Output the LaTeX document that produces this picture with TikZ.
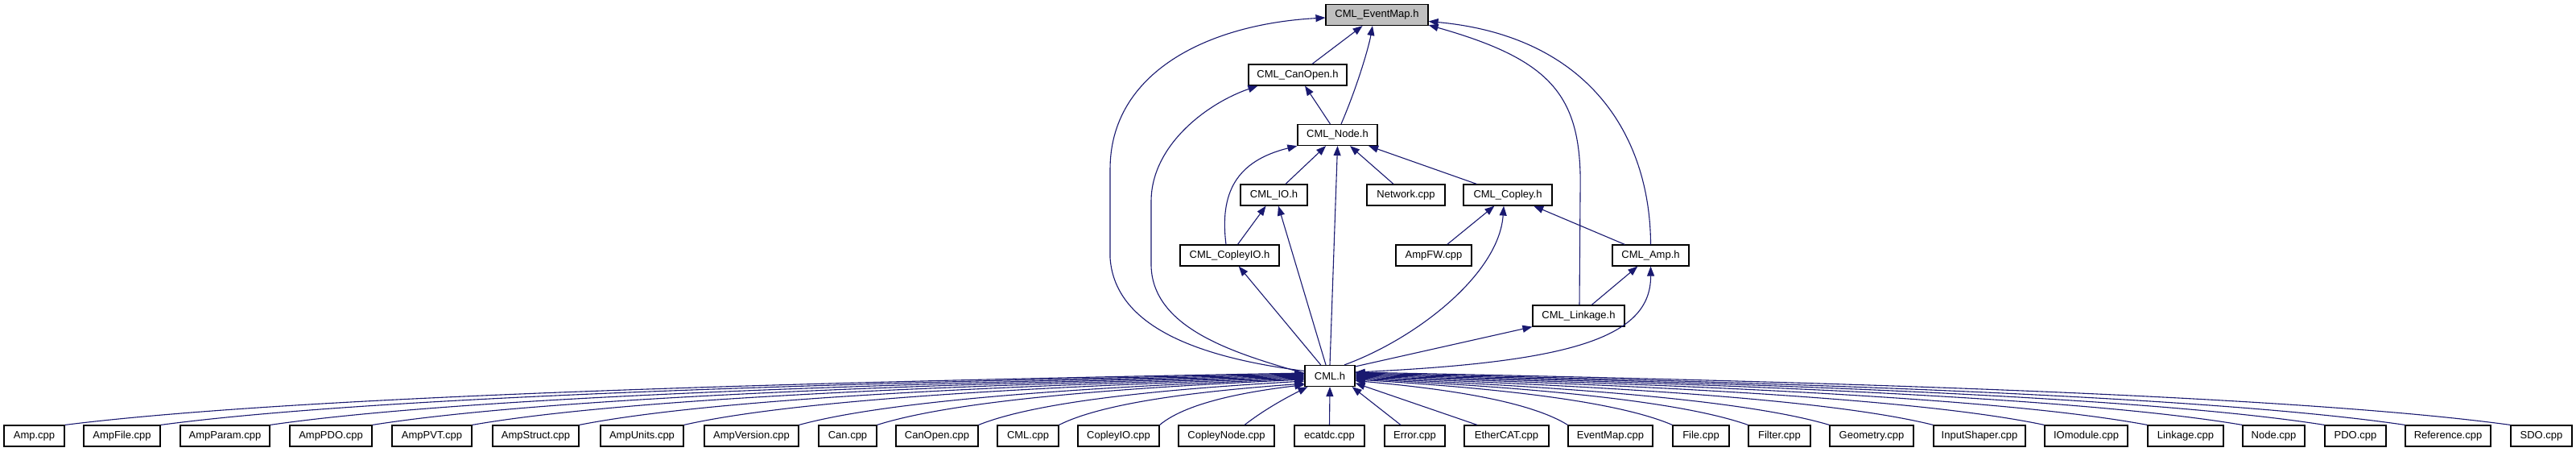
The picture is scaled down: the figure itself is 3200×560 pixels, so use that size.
\documentclass[tikz,border=0pt]{standalone}
\usepackage{fontspec}
\setmainfont{Liberation Sans}
\usetikzlibrary{arrows.meta}
\definecolor{edgeblue}{HTML}{191970}
\definecolor{focusgray}{HTML}{BFBFBF}
\begin{document}
\begin{tikzpicture}[x=1pt,y=-1pt,
  box/.style={draw=black, line width=1.2pt, fill=white, minimum height=26pt, inner sep=0pt, font=\fontsize{13}{15}\selectfont},
  dep/.style={draw=edgeblue, line width=1.1pt, -{Triangle[length=12pt,width=9pt]}},
]
\fill[white] (0,0) rectangle (3200,560);
\useasboundingbox (0,0) rectangle (3200,560);

% upper nodes
\node[box, fill=focusgray, minimum width=127pt] (EM) at (1710.5,18.5) {CML\_EventMap.h};
\node[box, minimum width=122pt] (CanOpenh) at (1612,93) {CML\_CanOpen.h};
\node[box, minimum width=99pt] (Nodeh) at (1661.5,167.5) {CML\_Node.h};
\node[box, minimum width=83pt] (IOh) at (1582.5,242) {CML\_IO.h};
\node[box, minimum width=97pt] (Network) at (1746.5,242) {Network.cpp};
\node[box, minimum width=110pt] (Copleyh) at (1873,242) {CML\_Copley.h};
\node[box, minimum width=123pt] (CopleyIOh) at (1527.5,317) {CML\_CopleyIO.h};
\node[box, minimum width=94pt] (AmpFW) at (1781,317) {AmpFW.cpp};
\node[box, minimum width=95pt] (Amph) at (2050.5,317) {CML\_Amp.h};
\node[box, minimum width=114pt] (Linkageh) at (1961,392) {CML\_Linkage.h};
\node[box, minimum width=62pt] (CMLh) at (1652,466.5) {CML.h};

% bottom row
\node[box, minimum width=75pt] (b1) at (42.5,541) {Amp.cpp};
\node[box, minimum width=95pt] (b2) at (151.5,541) {AmpFile.cpp};
\node[box, minimum width=111pt] (b3) at (279.5,541) {AmpParam.cpp};
\node[box, minimum width=102pt] (b4) at (411,541) {AmpPDO.cpp};
\node[box, minimum width=99pt] (b5) at (536.5,541) {AmpPVT.cpp};
\node[box, minimum width=107pt] (b6) at (665.5,541) {AmpStruct.cpp};
\node[box, minimum width=103pt] (b7) at (797.5,541) {AmpUnits.cpp};
\node[box, minimum width=117pt] (b8) at (933.5,541) {AmpVersion.cpp};
\node[box, minimum width=72pt] (b9) at (1053,541) {Can.cpp};
\node[box, minimum width=102pt] (b10) at (1164,541) {CanOpen.cpp};
\node[box, minimum width=76pt] (b11) at (1277,541) {CML.cpp};
\node[box, minimum width=101pt] (b12) at (1389.5,541) {CopleyIO.cpp};
\node[box, minimum width=119pt] (b13) at (1523.5,541) {CopleyNode.cpp};
\node[box, minimum width=87pt] (b14) at (1651.5,541) {ecatdc.cpp};
\node[box, minimum width=75pt] (b15) at (1757.5,541) {Error.cpp};
\node[box, minimum width=105pt] (b16) at (1871.5,541) {EtherCAT.cpp};
\node[box, minimum width=105pt] (b17) at (2000.5,541) {EventMap.cpp};
\node[box, minimum width=70pt] (b18) at (2113,541) {File.cpp};
\node[box, minimum width=77pt] (b19) at (2210.5,541) {Filter.cpp};
\node[box, minimum width=104pt] (b20) at (2325,541) {Geometry.cpp};
\node[box, minimum width=114pt] (b21) at (2459,541) {InputShaper.cpp};
\node[box, minimum width=103pt] (b22) at (2591.5,541) {IOmodule.cpp};
\node[box, minimum width=94pt] (b23) at (2715,541) {Linkage.cpp};
\node[box, minimum width=77pt] (b24) at (2824.5,541) {Node.cpp};
\node[box, minimum width=76pt] (b25) at (2926,541) {PDO.cpp};
\node[box, minimum width=106pt] (b26) at (3041,541) {Reference.cpp};
\node[box, minimum width=76pt] (b27) at (3157,541) {SDO.cpp};

% upper edges
\draw[dep] (CanOpenh) -- (EM);
\draw[dep] ([xshift=4.5pt]Nodeh.north) .. controls (1685,110) and (1700,60) .. ([xshift=-5.5pt]EM.south);
\draw[dep] ([yshift=6pt]CMLh.west) .. controls (1500,445) and (1385,410) .. (1379,320) -- (1379,210) .. controls (1379,90) and (1500,30) .. ([yshift=-3.5pt]EM.west);
\draw[dep] ([xshift=1pt]Linkageh.north) -- (1963,240) .. controls (1966,120) and (1930,75) .. ([yshift=1pt]EM.south east);
\draw[dep] (Amph.north) .. controls (2050,170) and (1975,45) .. ([yshift=-8pt]EM.east);
\draw[dep] ([yshift=3pt]CMLh.west) .. controls (1540,440) and (1432,410) .. (1430,330) -- (1430,250) .. controls (1430,180) and (1500,128) .. ([xshift=12pt]CanOpenh.south west);
\draw[dep] (Nodeh) -- (CanOpenh);
\draw[dep] (IOh) -- (Nodeh);
\draw[dep] (Network) -- (Nodeh);
\draw[dep] (Copleyh) -- (Nodeh);
\draw[dep] ([xshift=-4.5pt]CopleyIOh.north) .. controls (1515,240) and (1535,200) .. (Nodeh.south west);
\draw[dep] (CMLh.north) -- (Nodeh.south);
\draw[dep] (CopleyIOh) -- (IOh);
\draw[dep] ([xshift=-5pt]CMLh.north) -- ([xshift=5.5pt]IOh.south);
\draw[dep] (CMLh) -- (CopleyIOh);
\draw[dep] (AmpFW) -- (Copleyh);
\draw[dep] ([xshift=18pt]CMLh.north) .. controls (1760,420) and (1862,340) .. ([xshift=-5pt]Copleyh.south);
\draw[dep] (Amph) -- (Copleyh);
\draw[dep] (Linkageh) -- (Amph);
\draw[dep] ([yshift=4.5pt]CMLh.east) .. controls (1950,450) and (2051,420) .. (Amph.south);
\draw[dep] ([yshift=-2pt]CMLh.north east) -- (Linkageh.south west);

% bottom edges, left side
\draw[dep] (b1.north east) .. controls (388,489) and (1082,472.75) .. ([yshift=3.5pt]CMLh.west);
\draw[dep] (b2.north east) .. controls (483.4,489.6) and (1123.3,473.6) .. ([yshift=2.5pt]CMLh.west);
\draw[dep] (b3.north east) .. controls (592.2,490.2) and (1170.9,474.5) .. ([yshift=1.5pt]CMLh.west);
\draw[dep] (b4.north east) .. controls (693.8,490.8) and (1215.4,475.3) .. ([yshift=0.5pt]CMLh.west);
\draw[dep] (b5.north east) .. controls (793,491.4) and (1258.75,476.2) .. ([yshift=-0.5pt]CMLh.west);
\draw[dep] (b6.north east) .. controls (899.4,492) and (1305.3,477) .. ([yshift=-1.5pt]CMLh.west);
\draw[dep] (b7.north east) .. controls (1003.4,492.6) and (1350.8,477.9) .. ([yshift=-2.5pt]CMLh.west);
\draw[dep] (b8.north east) .. controls (1117.8,493.2) and (1400.85,478.7) .. ([yshift=-3.5pt]CMLh.west);
\draw[dep] (b9.north east) .. controls (1195.4,493.8) and (1434.8,479.55) .. ([yshift=-4.5pt]CMLh.west);
\draw[dep] (b10.north east) .. controls (1296.2,495) and (1478.9,481.25) .. ([yshift=-6.5pt]CMLh.west);
\draw[dep] (b11.north east) .. controls (1376.2,496.8) and (1513.9,483.8) .. ([yshift=-9.5pt]CMLh.west);
\draw[dep] (b12.north east) .. controls (1476,497.7) and (1557.6,485.1) .. ([yshift=-11pt]CMLh.west);
\draw[dep] ([xshift=22.5pt]b13.north) .. controls (1575,505) and (1605,490) .. ([xshift=4pt]CMLh.south west);
\draw[dep] (b14.north) -- (CMLh.south);
\draw[dep] ([xshift=-17.5pt]b15.north) -- ([xshift=-4pt]CMLh.south east);
\draw[dep] ([xshift=-36.5pt]b16.north) -- ([yshift=-9pt]CMLh.east);
% bottom edges, right side
\draw[dep] (b17.north west) .. controls (1895,494.7) and (1775.75,480.8) .. ([yshift=-6pt]CMLh.east);
\draw[dep] (b18.north west) .. controls (1999,493.8) and (1821.25,479.55) .. ([yshift=-4.5pt]CMLh.east);
\draw[dep] (b19.north west) .. controls (2074.2,493.2) and (1854.15,478.7) .. ([yshift=-3.5pt]CMLh.east);
\draw[dep] (b20.north west) .. controls (2155,492.6) and (1889.5,477.85) .. ([yshift=-2.5pt]CMLh.east);
\draw[dep] (b21.north west) .. controls (2258.2,492) and (1934.65,477) .. ([yshift=-1.5pt]CMLh.east);
\draw[dep] (b22.north west) .. controls (2368.6,491.4) and (1982.95,476.15) .. ([yshift=-0.5pt]CMLh.east);
\draw[dep] (b23.north west) .. controls (2471,490.8) and (2027.75,475.3) .. ([yshift=0.5pt]CMLh.east);
\draw[dep] (b24.north west) .. controls (2565.4,490.2) and (2069.05,474.45) .. ([yshift=1.5pt]CMLh.east);
\draw[dep] (b25.north west) .. controls (2647,489.6) and (2104.75,473.6) .. ([yshift=2.5pt]CMLh.east);
\draw[dep] (b26.north west) .. controls (2727,489) and (2139.75,472.75) .. ([yshift=3.5pt]CMLh.east);
\draw[dep] (b27.north west) .. controls (2831.8,488.4) and (2185.6,471.9) .. ([yshift=4.5pt]CMLh.east);
\end{tikzpicture}
\end{document}
